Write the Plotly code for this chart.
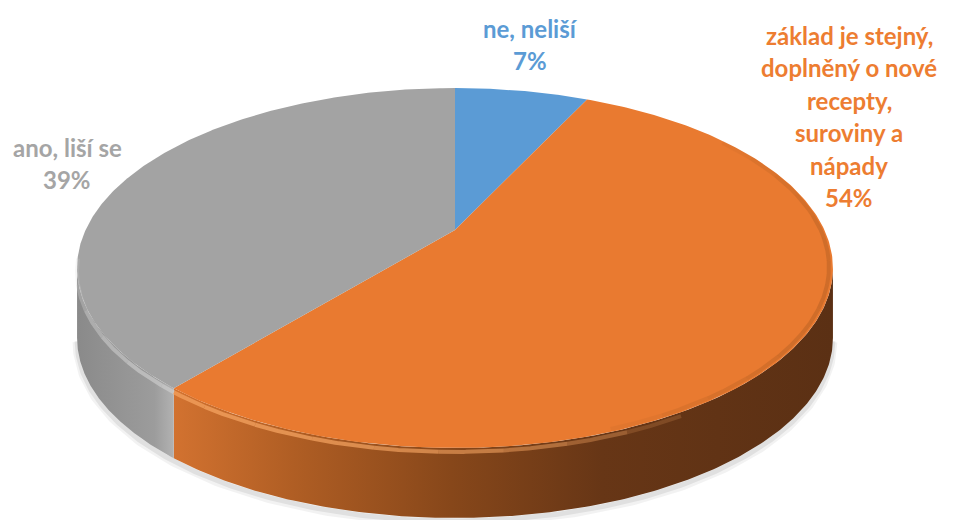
import numpy as np
import plotly.graph_objects as go

# ---- data -------------------------------------------------------------
categories = [
    "ne, neliší",
    "základ je stejný,\ndoplněný o nové\nrecepty,\nsuroviny a\nnápady",
    "ano, liší se",
]
values = [7, 54, 39]

# ---- styling ----------------------------------------------------------
top_colors = ["#5B9BD5", "#E97A30", "#A3A3A3"]
label_colors = ["#5B9BD5", "#ED7D31", "#A5A5A5"]
side_scales = [
    [[0, "#3F6F9C"], [1, "#2E5478"]],
    [[0, "#D27230"], [0.18, "#B05E24"], [0.42, "#87471A"], [0.65, "#673616"], [1, "#5B3014"]],
    [[0, "#8A8A8A"], [0.8, "#9C9C9C"], [1, "#B2B2B2"]],
]
rim_light = ["#A9CDEE", "#F9A865", "#CFCFCF"]
rim_dark = ["#3F6F9C", "#A0551E", "#7E7E7E"]
label_pos = [(530, 28), (849, 35), (67, 147)]   # centre of first text line (px)
LINE_STEP = 32.5

W, H = 954, 520
CX, CY = 455, 230          # pie centre on screen
FOCAL = 1549               # perspective scale
SIN_T = 0.4654             # sine of the tilt angle
COS_T = np.sqrt(1 - SIN_T ** 2)
DIST = 4.193               # camera distance (in pie radii)
SIDE = 70                  # thickness of the pie wall (px)


def project(phi, r=1.0):
    """Screen position of a point on the top face, phi clockwise from 12 o'clock."""
    X = r * np.sin(phi)
    Z = -r * np.cos(phi)
    depth = DIST - Z * COS_T
    return CX + FOCAL * X / depth, CY + FOCAL * Z * SIN_T / depth


def clip(a0, a1, lo, hi):
    return max(a0, lo), min(a1, hi)


# angular extent of each slice (clockwise from the top)
total = float(sum(values))
edges = np.concatenate([[0.0], np.cumsum(values) / total]) * 2 * np.pi

# the front part of the wall lies between the leftmost and rightmost rim points
probe = np.linspace(0, 2 * np.pi, 7201)
px, _ = project(probe)
phi_right = probe[np.argmax(px)]
phi_left = probe[np.argmin(px)]

fig = go.Figure()

# soft shadow under the front edge
for off, wid, alpha in [(4, 9, 0.05), (3, 5, 0.07)]:
    sh = np.linspace(phi_right, phi_left, 300)
    sx, sy = project(sh)
    fig.add_trace(go.Scatter(x=sx, y=sy + SIDE + off, mode="lines",
                             line=dict(color=f"rgba(0,0,0,{alpha})", width=wid),
                             hoverinfo="skip", showlegend=False))

# visible walls
for i in range(len(values)):
    a0, a1 = clip(edges[i], edges[i + 1], phi_right, phi_left)
    if a1 <= a0:
        continue
    t = np.linspace(a0, a1, 200)
    x, y = project(t)
    xs = np.concatenate([x, x[::-1]])
    ys = np.concatenate([y, (y + SIDE)[::-1]])
    fig.add_trace(go.Scatter(
        x=xs, y=ys, mode="lines", fill="toself",
        line=dict(width=0, color=top_colors[i]),
        fillgradient=dict(type="horizontal", colorscale=side_scales[i],
                          start=float(x.min()), stop=float(x.max())),
        hoverinfo="skip", showlegend=False))

# top faces
for i in range(len(values)):
    t = np.linspace(edges[i], edges[i + 1], 300)
    x, y = project(t)
    fig.add_trace(go.Scatter(
        x=np.concatenate([[CX], x, [CX]]), y=np.concatenate([[CY], y, [CY]]),
        mode="lines", fill="toself", fillcolor=top_colors[i],
        line=dict(width=0, color=top_colors[i]),
        name=categories[i].replace("\n", " "), hoverinfo="name", showlegend=False))


# rounded bevel: lit on the left-front, shaded on the right
def bevel(lo, hi, colors, radius, dy, width, peak):
    n_seg = 14
    cuts = np.linspace(lo, hi, n_seg + 1)
    for k in range(n_seg):
        mid = 0.5 * (cuts[k] + cuts[k + 1])
        w = np.sin(np.pi * (mid - lo) / (hi - lo)) ** 0.6
        for i in range(len(values)):
            a0, a1 = clip(edges[i], edges[i + 1], cuts[k], cuts[k + 1])
            if a1 <= a0:
                continue
            t = np.linspace(a0, a1, 30)
            x, y = project(t, radius)
            fig.add_trace(go.Scatter(x=x, y=y + dy, mode="lines",
                                     line=dict(color=colors[i], width=width),
                                     opacity=peak * w, hoverinfo="skip",
                                     showlegend=False))


bevel(np.radians(150), np.radians(262), rim_light, 1.0, 4, 4, 0.7)
bevel(np.radians(55), np.radians(160), rim_dark, 0.99, 0, 4, 0.35)

# data labels
for i, cat in enumerate(categories):
    pct = round(100 * values[i] / total)
    lines = cat.split("\n") + [f"{pct}%"]
    lx, ly = label_pos[i]
    for k, line in enumerate(lines):
        fig.add_annotation(x=lx, y=ly + k * LINE_STEP, text=line, showarrow=False,
                           xanchor="center", yanchor="middle",
                           font=dict(family="Lato", size=24, color=label_colors[i],
                                     weight="bold"))

fig.update_xaxes(range=[0, W], visible=False, fixedrange=True)
fig.update_yaxes(range=[H, 0], visible=False, fixedrange=True)
fig.update_layout(width=W, height=H, margin=dict(l=0, r=0, t=0, b=0),
                  paper_bgcolor="white", plot_bgcolor="white")

fig.write_html("out.html")
